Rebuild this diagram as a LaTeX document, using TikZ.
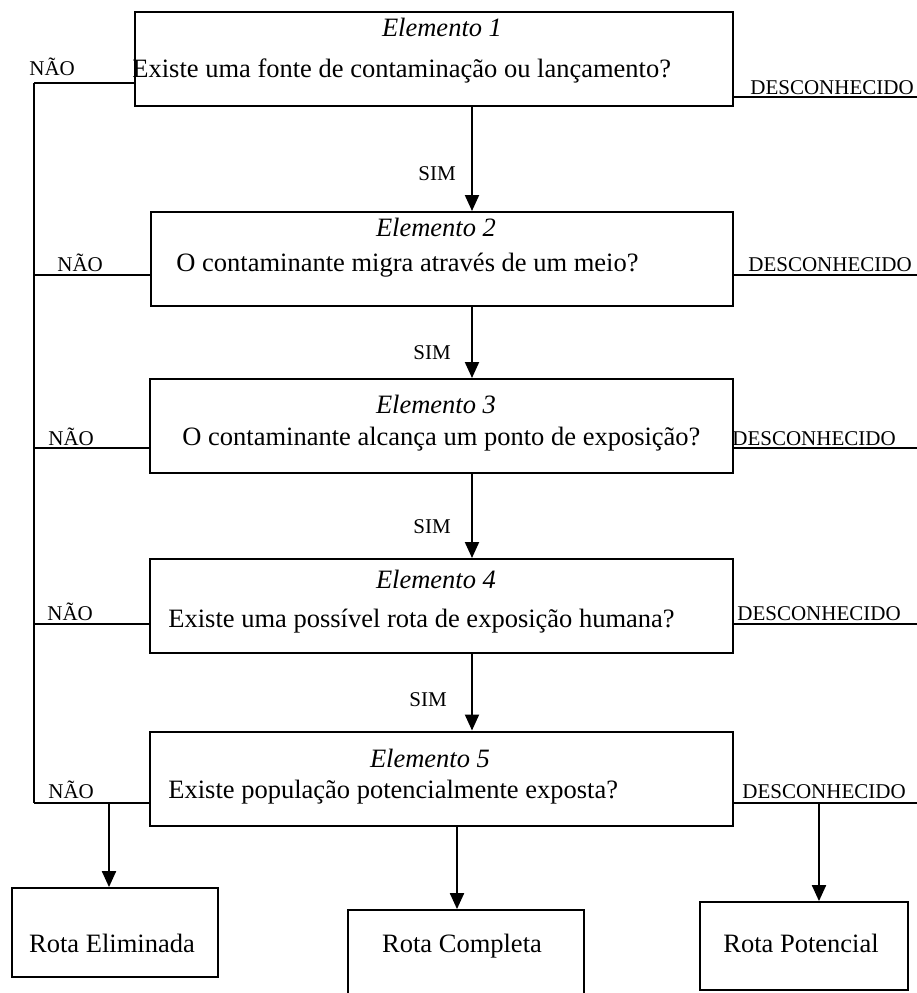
\documentclass[tikz,border=0pt]{standalone}
\usepackage{fontspec}
\setmainfont{Liberation Serif}
\usetikzlibrary{arrows.meta}

\tikzset{
  elbox/.style={draw, line width=1pt, rectangle, inner sep=0pt, minimum height=47pt},
  rotabox/.style={draw, line width=0.9pt, rectangle, inner sep=0pt},
  titulo/.style={inner sep=0pt, anchor=base, font=\fontsize{13.25pt}{15pt}\selectfont\itshape},
  pergunta/.style={inner sep=0pt, anchor=base west, font=\fontsize{13.25pt}{15pt}\selectfont},
  rotulo/.style={inner sep=0pt, anchor=base west, font=\fontsize{10.5pt}{12pt}\selectfont},
  fio/.style={line width=0.65pt},
  seta/.style={line width=1pt, -{Triangle[width=7pt,length=8pt]}}
}

\begin{document}
\begin{tikzpicture}[x=0.5pt,y=-0.5pt]
\clip (0,0) rectangle (917,993);

% caixas dos elementos
\foreach \i/\cx/\cy/\w in
{   1/434/59/299,
    2/442/259/291,
    3/441.5/426/291.5,
    4/441.5/606/291.5,
    5/441.5/778.5/291.5
}
{
    \node[elbox, minimum width=\w pt] (el\i) at (\cx,\cy) {};
};

\foreach \i/\tx/\ty/\qx/\qy/\q in
{   1/442/36/132/77/{Existe uma fonte de contaminação ou lançamento?},
    2/436/236/176/271/{O contaminante migra através de um meio?},
    3/436/413/182/445/{O contaminante alcança um ponto de exposição?},
    4/436/588/168/627/{Existe uma possível rota de exposição humana?},
    5/430/767/168/798/{Existe população potencialmente exposta?}
}
{
    \node[titulo] (tit\i) at (\tx,\ty) {Elemento \i};
    \node[pergunta] (perg\i) at (\qx,\qy) {\q};
};

% caixas das rotas
\node[rotabox, minimum width=103pt, minimum height=44.5pt] (rotaE) at (115,932.5) {};
\node[rotabox, minimum width=118pt, minimum height=50pt] (rotaC) at (466,960) {};
\node[rotabox, minimum width=104pt, minimum height=44pt] (rotaP) at (804,946) {};
\node[pergunta, anchor=base] (txtE) at (112,952) {Rota Eliminada};
\node[pergunta, anchor=base] (txtC) at (462,952) {Rota Completa};
\node[pergunta, anchor=base] (txtP) at (801,952) {Rota Potencial};

% ramos NAO e DESCONHECIDO
\foreach \i/\ny/\nx/\nty/\dy/\dx/\dty in
{   1/83/29/75/97/750/94,
    2/275/57/271/275/748/271,
    3/448/48/445/448/732/445,
    4/624/47/620/624/737/620,
    5/803/48/798/803/742/798
}
{
    \coordinate (nao\i) at (34,\ny);
    \coordinate (desc\i) at (917,\dy);
    \draw[fio] (nao\i) -- (nao\i -| el\i.west);
    \draw[fio] (desc\i -| el\i.east) -- (desc\i);
    \node[rotulo] (lnao\i) at (\nx,\nty) {NÃO};
    \node[rotulo] (ldesc\i) at (\dx,\dty) {DESCONHECIDO};
};
\draw[line width=0.8pt] (nao1) -- (nao5);

% setas SIM
\coordinate (eixo) at (472,0);
\foreach \i/\j/\sx/\sy in
{   1/2/418/180,
    2/3/413/359,
    3/4/413/533,
    4/5/409/706
}
{
    \draw[seta] (el\i.south -| eixo) -- (el\j.north -| eixo);
    \node[rotulo] (sim\i) at (\sx,\sy) {SIM};
};

% setas para as rotas
\coordinate (eixoE) at (109,0);
\coordinate (eixoC) at (457,0);
\coordinate (eixoP) at (819,0);
\draw[seta] (nao5 -| eixoE) -- (rotaE.north -| eixoE);
\draw[seta] (el5.south -| eixoC) -- (rotaC.north -| eixoC);
\draw[seta] (desc5 -| eixoP) -- (rotaP.north -| eixoP);
\end{tikzpicture}
\end{document}
